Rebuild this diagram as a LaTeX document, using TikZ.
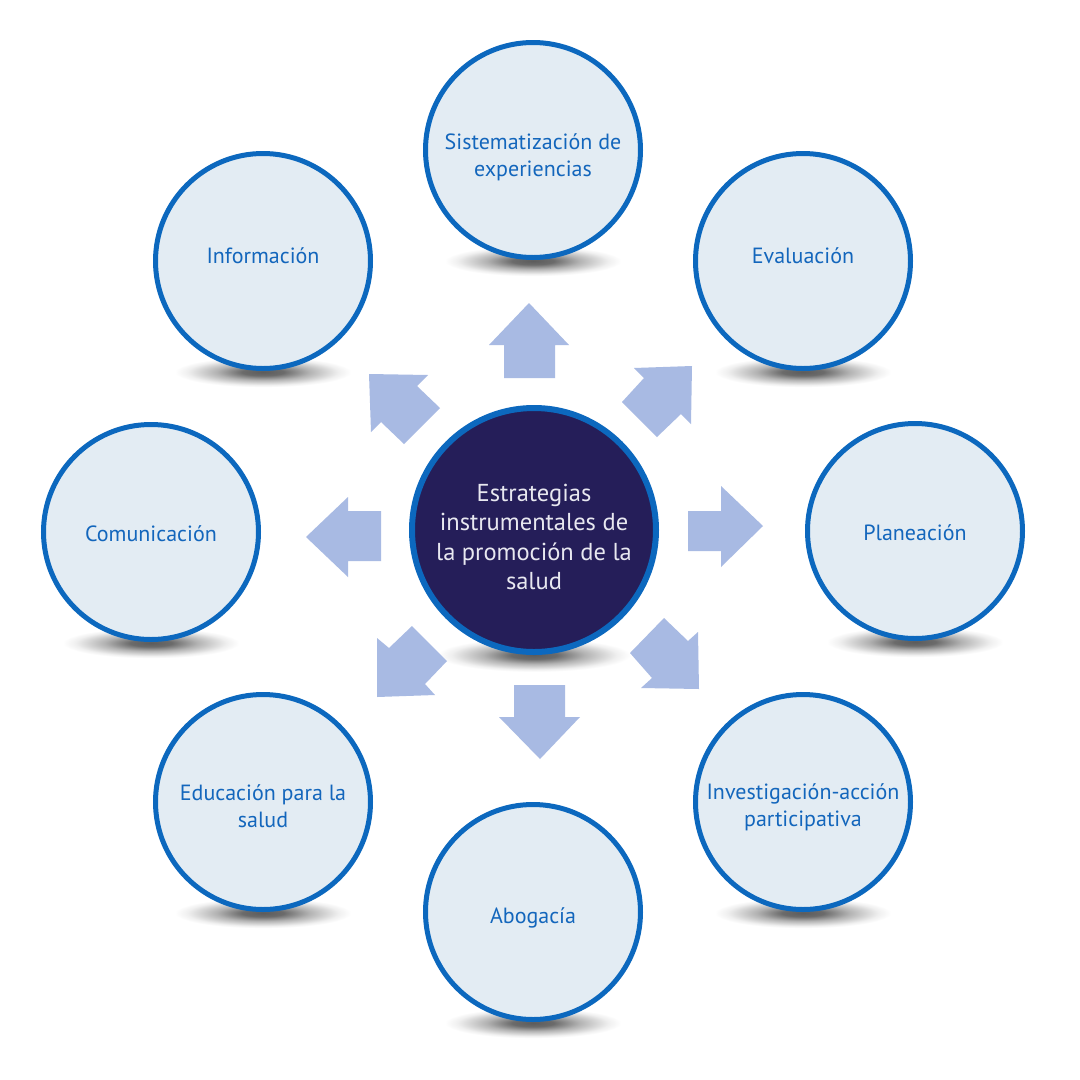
\documentclass[tikz,border=0pt]{standalone}
\usepackage{fontspec}
\setmainfont{PT Sans}
\definecolor{ringblue}{HTML}{0C68BE}
\definecolor{paleblue}{HTML}{E3ECF3}
\definecolor{txtblue}{HTML}{1366BC}
\definecolor{navy}{HTML}{251E59}
\definecolor{arrowblue}{HTML}{A8BAE3}
\definecolor{lighttxt}{HTML}{E8E8F0}
\pgfdeclareradialshading{softshadow}{\pgfpoint{0bp}{0bp}}{color(0bp)=(black!64); color(5bp)=(black!58); color(11bp)=(black!30); color(18bp)=(black!6); color(21bp)=(white); color(50bp)=(white)}
\tikzset{
  outerc/.style={circle, draw=ringblue, line width=5pt, fill=paleblue, minimum size=215pt, inner sep=0pt},
  centerc/.style={circle, draw=ringblue, line width=6pt, fill=navy, minimum size=244pt, inner sep=0pt},
  outerlbl/.style={text=txtblue, align=center, inner sep=0pt, font=\fontsize{22}{27}\selectfont},
  centerlbl/.style={text=lighttxt, align=center, inner sep=0pt, font=\fontsize{24.5}{29.5}\selectfont},
  blockarrow/.style={fill=arrowblue, draw=none},
  shadowel/.style={shading=softshadow, draw=none}
}
\begin{document}
\begin{tikzpicture}[x=1pt,y=-1pt]
\useasboundingbox[fill=white] (0,0) rectangle (1080,1080);
% shadows
\foreach \cx/\cy in {533/150, 263/261, 803/261, 151/532, 915/531, 263/802, 803/802, 533/912}{
  \shade[shadowel] (\cx,\cy+111) ellipse [x radius=105, y radius=18];
}
\shade[shadowel] (534,530+125) ellipse [x radius=115, y radius=20];
% arrows
\fill[blockarrow] (529,303) -- (569,345) -- (555,345) -- (555,378) -- (504,378) -- (504,345) -- (489,345) -- cycle;
\fill[blockarrow] (763,526) -- (721,486) -- (721,511) -- (688,511) -- (688,551) -- (721,551) -- (721,567) -- cycle;
\fill[blockarrow] (306,537) -- (348,497) -- (348,511) -- (381,511) -- (381,561) -- (348,561) -- (348,577) -- cycle;
\fill[blockarrow] (540,759) -- (580,717) -- (565,717) -- (565,685) -- (514,685) -- (514,717) -- (499,717) -- cycle;
\fill[blockarrow] (369,374) -- (428,375) -- (417,386) -- (440,408) -- (404,444) -- (381,422) -- (371,432) -- cycle;
\fill[blockarrow] (692,366) -- (634,368) -- (644,378) -- (622,402) -- (657,437) -- (681,414) -- (691,424) -- cycle;
\fill[blockarrow] (377,697) -- (377,638) -- (389,648) -- (412,626) -- (447,661) -- (425,684) -- (435,695) -- cycle;
\fill[blockarrow] (699,689) -- (698,632) -- (688,641) -- (664,618) -- (630,653) -- (652,678) -- (641,688) -- cycle;
% circles
\node[centerc] (center) at (534,530) {};
\node[outerc] (sis) at (533,150) {};
\node[outerc] (info) at (263,261) {};
\node[outerc] (eval) at (803,261) {};
\node[outerc] (com) at (151,532) {};
\node[outerc] (plan) at (915,531) {};
\node[outerc] (edu) at (263,802) {};
\node[outerc] (inv) at (803,802) {};
\node[outerc] (abo) at (533,912) {};
% labels
\node[centerlbl] (centerT) at ([yshift=-7pt]center.center) {Estrategias\\instrumentales de\\la promoción de la\\salud};
\node[outerlbl] (sisT) at ([yshift=-7pt]sis.center) {Sistematización de\\experiencias};
\node[outerlbl] (infoT) at ([yshift=5pt]info.center) {Información};
\node[outerlbl] (evalT) at ([yshift=5pt]eval.center) {Evaluación};
\node[outerlbl] (comT) at ([yshift=-2pt]com.center) {Comunicación};
\node[outerlbl] (planT) at ([yshift=-2pt]plan.center) {Planeación};
\node[outerlbl] (eduT) at ([yshift=-4pt]edu.center) {Educación para la\\salud};
\node[outerlbl] (invT) at ([yshift=-5pt]inv.center) {Investigación-acción\\participativa};
\node[outerlbl] (aboT) at ([yshift=-6pt]abo.center) {Abogacía};
\end{tikzpicture}
\end{document}
